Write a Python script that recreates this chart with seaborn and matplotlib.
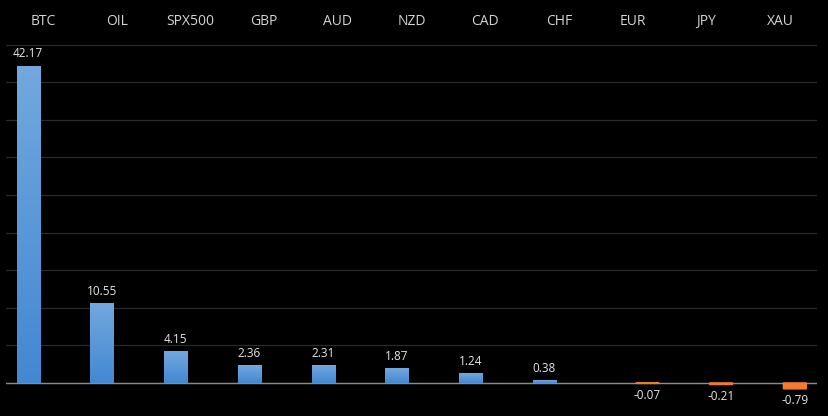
import numpy as np
import pandas as pd
import matplotlib
matplotlib.use("Agg")
import matplotlib.pyplot as plt
from matplotlib.colors import LinearSegmentedColormap
import seaborn as sns

# data
symbols = ["BTC", "OIL", "SPX500", "GBP", "AUD", "NZD", "CAD", "CHF", "EUR", "JPY", "XAU"]
changes = [42.17, 10.55, 4.15, 2.36, 2.31, 1.87, 1.24, 0.38, -0.07, -0.21, -0.79]
series = ["up" if v >= 0 else "down" for v in changes]

df = pd.DataFrame({"symbol": symbols, "change": changes, "series": series})

sns.set_theme(style="dark")
plt.rcParams["font.family"] = ["Open Sans", "DejaVu Sans"]

fig = plt.figure(figsize=(8.29, 4.16), dpi=100, facecolor="black")
ax = fig.add_axes([6 / 829, 0.0, 811 / 829, 372 / 416])
ax.set_facecolor("black")

sns.barplot(data=df, x="symbol", y="change", hue="series", hue_order=["up", "down"],
            order=symbols, palette={"up": "#5b9bd5", "down": "#f47a2c"},
            saturation=1, dodge=True, gap=0.22, legend=False, ax=ax, zorder=3)

# gradient fill for the blue bars, thin outline so tiny bars stay visible
blue = LinearSegmentedColormap.from_list("bl", ["#4388d3", "#72a8de"])
grad = np.linspace(0, 1, 256).reshape(-1, 1)
for bar in ax.patches:
    h = bar.get_height()
    if h > 0:
        x, w = bar.get_x(), bar.get_width()
        bar.set_facecolor("none")
        bar.set_edgecolor("none")
        ax.imshow(grad, extent=[x, x + w, 0, h], origin="lower", cmap=blue,
                  aspect="auto", zorder=3)
    else:
        bar.set_edgecolor("#f47a2c")
        bar.set_linewidth(1.0)
        bar.set_snap(False)
        bar.set_zorder(5)
ax.set_ylim(-4.4, 45.1)
ax.set_xlim(-0.5, 10.5)

for cont in ax.containers:
    ax.bar_label(cont, fmt="%.2f", padding=4, color="#e6e6e6", fontsize=8.5)

ax.set_yticks(np.arange(0, 46, 5))
ax.yaxis.grid(True, color="#2a2a2a", linewidth=0.9)
ax.xaxis.grid(False)
ax.set_yticklabels([])
ax.axhline(0, color="#8c8c8c", linewidth=1, zorder=2.5)

ax.xaxis.tick_top()
ax.tick_params(axis="x", length=0, pad=11, colors="#d4d4d4", labelsize=10)
ax.tick_params(axis="y", length=0)
ax.set_xlabel("")
ax.set_ylabel("")
for s in ax.spines.values():
    s.set_visible(False)

fig.savefig("out.png", dpi=100, facecolor="black")
